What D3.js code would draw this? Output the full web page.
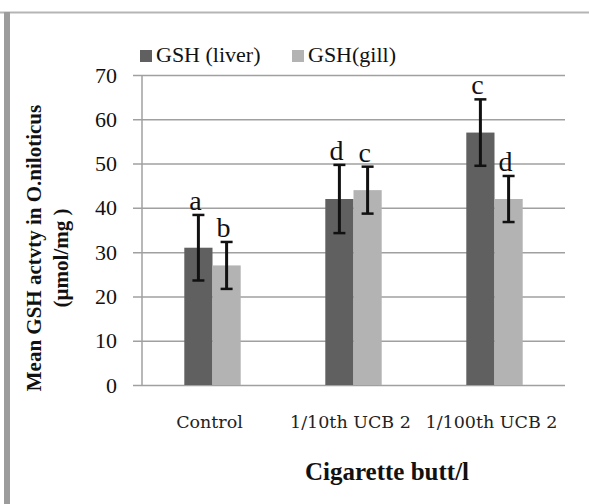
<!DOCTYPE html>
<html lang="en">
<head>
<meta charset="UTF-8">
<title>GSH activity</title>
<script src="https://d3js.org/d3.v7.min.js"></script>
<style>
body {margin: 0; background: white;}
svg {display: block;}
text {font-family: "Liberation Serif", "Times New Roman", serif; fill: #111;}
.cat text {font-family: "DejaVu Serif", serif; font-size: 17.5px; fill: #222;}
</style>
</head>
<body>
<svg width="589" height="504"></svg>
<script>
// chart data
const categories = ["Control", "1/10th UCB 2", "1/100th UCB 2"];
const seriesNames = ["GSH (liver)", "GSH(gill)"];
const liver = [31, 42, 57];
const gill = [27, 44, 42];
const liverErr = [7.4, 7.7, 7.5];
const gillErr = [5.3, 5.3, 5.2];
const liverLetters = ["a", "d", "c"];
const gillLetters = ["b", "c", "d"];
const yTicks = [0, 10, 20, 30, 40, 50, 60, 70];
const colors = ["#606060", "#b3b3b3"];

const rows = categories.map(function(c, i) {
    return {
        cat: c,
        bars: [
            {s: 0, v: liver[i], e: liverErr[i], l: liverLetters[i]},
            {s: 1, v: gill[i], e: gillErr[i], l: gillLetters[i]}
        ]
    };
});

const svg = d3.select("svg");

// frame like the pasted picture
svg.append("line").attr("x1", 0).attr("x2", 589).attr("y1", 12.5).attr("y2", 12.5)
    .attr("stroke", "#b5b5b5").attr("stroke-width", 2);
svg.append("rect").attr("x", 4).attr("y", 12).attr("width", 6).attr("height", 492)
    .attr("fill", "#9c9c9c");

const pLeft = 142, pRight = 565, pTop = 75, pBottom = 385;

const y = d3.scaleLinear().domain([0, 70]).range([pBottom, pTop]);
const x = d3.scaleBand().domain(categories).range([pLeft, pRight]).paddingInner(0.6).paddingOuter(0.3);
const xs = d3.scaleBand().domain([0, 1]).range([0, x.bandwidth()]);

// gridlines + ticks
const yAxis = svg.append("g")
    .attr("transform", "translate(" + pLeft + ",0)")
    .call(d3.axisLeft(y).tickValues(yTicks).tickSize(9).tickPadding(16));
yAxis.select(".domain").remove();
yAxis.selectAll(".tick line").attr("stroke", "#a0a0a0").attr("stroke-width", 1.5)
    .attr("x1", -9).attr("x2", pRight - pLeft);
yAxis.selectAll(".tick text").attr("font-family", "Liberation Serif").attr("font-size", 22).attr("fill", "#111");

svg.append("line").attr("x1", pLeft).attr("x2", pLeft).attr("y1", pTop).attr("y2", pBottom)
    .attr("stroke", "#a0a0a0").attr("stroke-width", 1.5);

// bars
const groups = svg.append("g").selectAll("g")
    .data(rows).enter().append("g")
    .attr("transform", function(d) { return "translate(" + x(d.cat) + ",0)"; });

groups.selectAll("rect")
    .data(function(d) { return d.bars; }).enter().append("rect")
    .attr("x", function(d) { return xs(d.s); })
    .attr("y", function(d) { return y(d.v); })
    .attr("width", xs.bandwidth())
    .attr("height", function(d) { return pBottom - y(d.v); })
    .attr("fill", function(d) { return colors[d.s]; });

// error bars
const err = groups.selectAll("g.err")
    .data(function(d) { return d.bars; }).enter().append("g").attr("class", "err")
    .attr("stroke", "#111");
err.append("line")
    .attr("x1", function(d) { return xs(d.s) + xs.bandwidth() / 2; })
    .attr("x2", function(d) { return xs(d.s) + xs.bandwidth() / 2; })
    .attr("y1", function(d) { return y(d.v + d.e); })
    .attr("y2", function(d) { return y(d.v - d.e); })
    .attr("stroke-width", 3);
[1, -1].forEach(function(k) {
    err.append("line")
        .attr("x1", function(d) { return xs(d.s) + xs.bandwidth() / 2 - 6; })
        .attr("x2", function(d) { return xs(d.s) + xs.bandwidth() / 2 + 6; })
        .attr("y1", function(d) { return y(d.v + k * d.e); })
        .attr("y2", function(d) { return y(d.v + k * d.e); })
        .attr("stroke-width", 2.5);
});

// significance letters
groups.selectAll("text.sig")
    .data(function(d) { return d.bars; }).enter().append("text").attr("class", "sig")
    .attr("x", function(d) { return xs(d.s) + xs.bandwidth() / 2 - 3; })
    .attr("y", function(d) { return y(d.v + d.e) - 5; })
    .attr("text-anchor", "middle")
    .attr("font-size", 28)
    .text(function(d) { return d.l; });

// category labels
svg.append("g").attr("class", "cat").selectAll("text")
    .data(categories).enter().append("text")
    .attr("x", function(d) { return x(d) + x.bandwidth() / 2 - 3; })
    .attr("y", 428)
    .attr("text-anchor", "middle")
    .text(function(d) { return d; });

// axis titles
svg.append("text")
    .attr("x", 387).attr("y", 480)
    .attr("text-anchor", "middle")
    .attr("font-size", 25).attr("font-weight", "bold")
    .text("Cigarette butt/l");

const yt = svg.append("text")
    .attr("transform", "translate(41,248) rotate(-90)")
    .attr("text-anchor", "middle")
    .attr("font-size", 21).attr("font-weight", "bold");
yt.append("tspan").attr("x", 0).attr("y", 0).text("Mean GSH actvty in O.niloticus");
yt.append("tspan").attr("x", -10).attr("y", 27).text("(\u00b5mol/mg )");

// legend
const legX = [140, 292];
const leg = svg.append("g").selectAll("g")
    .data(seriesNames).enter().append("g")
    .attr("transform", function(d, i) { return "translate(" + legX[i] + ",50)"; });
leg.append("rect").attr("width", 12).attr("height", 12)
    .attr("fill", function(d, i) { return colors[i]; });
leg.append("text").attr("x", 16).attr("y", 12).attr("font-size", 22)
    .text(function(d) { return d; });
</script>
</body>
</html>
